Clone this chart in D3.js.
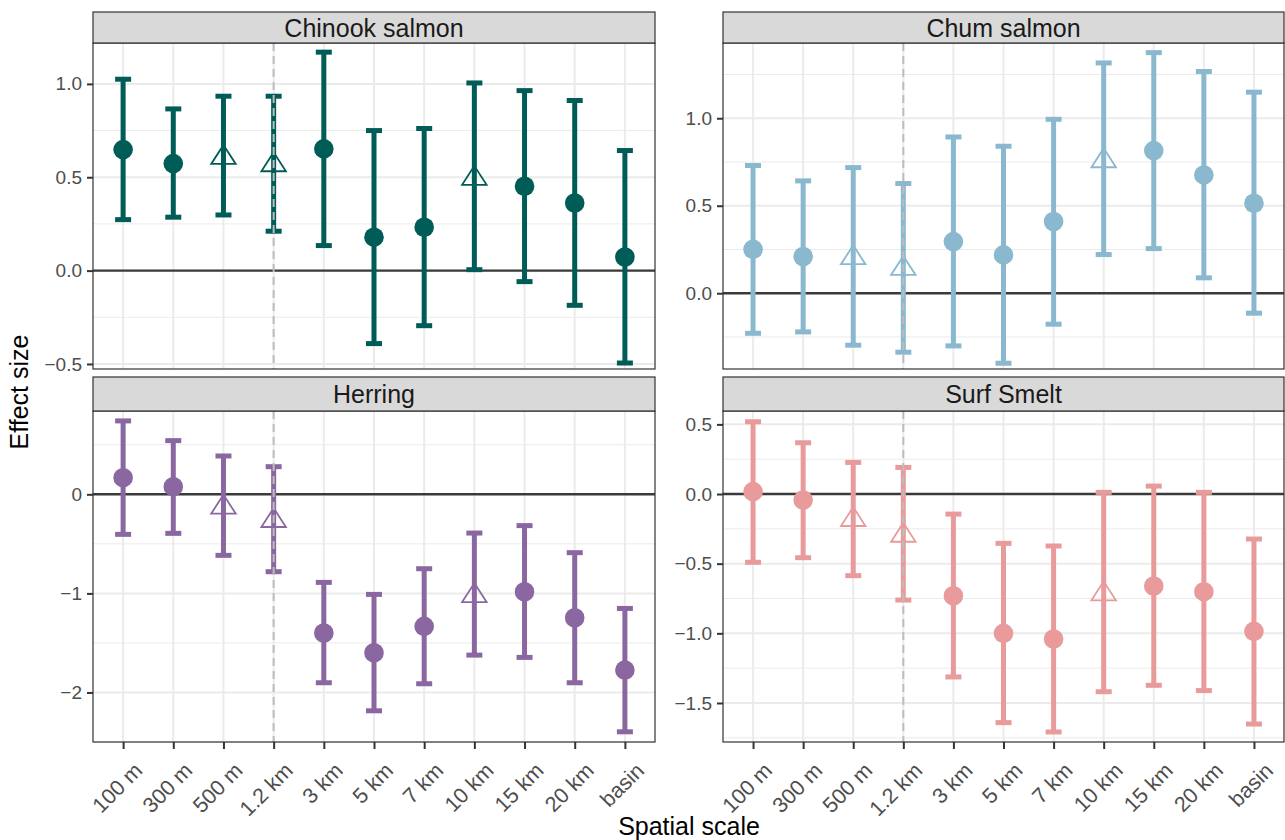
<!DOCTYPE html>
<html>
<head>
<meta charset="utf-8">
<script src="https://cdn.jsdelivr.net/npm/d3@7/dist/d3.min.js"></script>
<style>
  body { margin: 0; background: #fff; }
  svg { font-family: 'Liberation Sans', Arial, Helvetica, sans-serif; }
</style>
</head>
<body>
<svg id="chart" width="1285" height="840"></svg>
<script>
// spatial scales on the x axis
const scaleLabels = ['100 m', '300 m', '500 m', '1.2 km', '3 km', '5 km', '7 km', '10 km', '15 km', '20 km', 'basin'];
// scales drawn with an open triangle instead of a filled dot
const openScales = ['500 m', '1.2 km', '10 km'];
const cutoffScale = '1.2 km';

const chinookEst = [0.648, 0.573, 0.605, 0.566, 0.652, 0.179, 0.232, 0.493, 0.452, 0.362, 0.073];
const chinookLow = [0.273, 0.286, 0.298, 0.211, 0.134, -0.391, -0.295, 0.005, -0.059, -0.186, -0.495];
const chinookHigh = [1.025, 0.866, 0.934, 0.934, 1.170, 0.750, 0.761, 1.005, 0.964, 0.911, 0.643];

const chumEst = [0.251, 0.210, 0.202, 0.141, 0.295, 0.219, 0.410, 0.756, 0.815, 0.676, 0.514];
const chumLow = [-0.229, -0.221, -0.297, -0.337, -0.301, -0.400, -0.177, 0.221, 0.255, 0.088, -0.114];
const chumHigh = [0.730, 0.642, 0.718, 0.627, 0.893, 0.840, 0.994, 1.316, 1.375, 1.267, 1.149];

const herringEst = [0.168, 0.077, -0.131, -0.266, -1.400, -1.599, -1.333, -1.024, -0.983, -1.246, -1.774];
const herringLow = [-0.404, -0.394, -0.616, -0.781, -1.902, -2.185, -1.912, -1.623, -1.646, -1.902, -2.397];
const herringHigh = [0.741, 0.542, 0.387, 0.279, -0.889, -1.010, -0.751, -0.391, -0.316, -0.589, -1.152];

const smeltEst = [0.017, -0.043, -0.184, -0.297, -0.730, -1.000, -1.041, -0.718, -0.660, -0.701, -0.986];
const smeltLow = [-0.490, -0.457, -0.586, -0.761, -1.313, -1.641, -1.708, -1.419, -1.373, -1.411, -1.651];
const smeltHigh = [0.519, 0.368, 0.227, 0.191, -0.144, -0.354, -0.373, 0.012, 0.057, 0.012, -0.323];

const chinookTicks = [-0.5, 0, 0.5, 1.0];
const chumTicks = [0, 0.5, 1.0];
const herringTicks = [-2, -1, 0];
const smeltTicks = [-1.5, -1.0, -0.5, 0, 0.5];

const toRows = (est, low, high) => scaleLabels.map((s, i) => ({
  scale: s, est: est[i], low: low[i], high: high[i],
}));

const panels = [
  { title: 'Chinook salmon', color: '#005c57', rows: toRows(chinookEst, chinookLow, chinookHigh),
    ticks: chinookTicks, fmt: '.1f', yDomain: [-0.527, 1.219], col: 0, row: 0 },
  { title: 'Chum salmon', color: '#89b8cf', rows: toRows(chumEst, chumLow, chumHigh),
    ticks: chumTicks, fmt: '.1f', yDomain: [-0.433, 1.43], col: 1, row: 0 },
  { title: 'Herring', color: '#8a67a0', rows: toRows(herringEst, herringLow, herringHigh),
    ticks: herringTicks, fmt: 'd', yDomain: [-2.5, 0.841], col: 0, row: 1 },
  { title: 'Surf Smelt', color: '#e89b9a', rows: toRows(smeltEst, smeltLow, smeltHigh),
    ticks: smeltTicks, fmt: '.1f', yDomain: [-1.78, 0.596], col: 1, row: 1 },
];

const svg = d3.select('#chart');
const colX = [[93, 655], [723, 1284]];
const rowY = [{ strip: 12, top: 43, bottom: 369 }, { strip: 377, top: 411, bottom: 742 }];
const gridColor = '#ebebeb';
const borderColor = '#333333';
const textColor = '#4d4d4d';

const minus = s => s.replace('-', '\u2212');

function triangle(cx, cy) {
  const h = 19;
  const w = 24.5;
  return `M${cx},${cy - h * 2 / 3}L${cx + w / 2},${cy + h / 3}L${cx - w / 2},${cy + h / 3}Z`;
}

function drawPanel(p) {
  const [x0, x1] = colX[p.col];
  const { strip, top, bottom } = rowY[p.row];

  const x = d3.scalePoint()
    .domain(scaleLabels)
    .range([x0, x1])
    .padding(0.6);
  const y = d3.scaleLinear()
    .domain(p.yDomain)
    .range([bottom, top]);

  const g = svg.append('g');

  // minor grid, halfway between major ticks
  const step = p.ticks[1] - p.ticks[0];
  const minors = d3.range(p.ticks[0] - step / 2, p.ticks[p.ticks.length - 1] + step, step)
    .filter(v => v >= p.yDomain[0] - 1e-6 && v <= p.yDomain[1]);
  g.selectAll('.minor')
    .data(minors)
    .enter().append('line')
    .attr('x1', x0).attr('x2', x1)
    .attr('y1', d => y(d)).attr('y2', d => y(d))
    .attr('stroke', gridColor)
    .attr('stroke-width', 1);

  g.selectAll('.major-y')
    .data(p.ticks)
    .enter().append('line')
    .attr('x1', x0).attr('x2', x1)
    .attr('y1', d => y(d)).attr('y2', d => y(d))
    .attr('stroke', gridColor)
    .attr('stroke-width', 2);

  g.selectAll('.major-x')
    .data(scaleLabels)
    .enter().append('line')
    .attr('x1', d => x(d)).attr('x2', d => x(d))
    .attr('y1', top).attr('y2', bottom)
    .attr('stroke', gridColor)
    .attr('stroke-width', 2);

  // zero reference
  g.append('line')
    .attr('x1', x0).attr('x2', x1)
    .attr('y1', y(0)).attr('y2', y(0))
    .attr('stroke', '#3a3a3a')
    .attr('stroke-width', 2.4);

  // error bars
  const bars = g.selectAll('.bar')
    .data(p.rows)
    .enter().append('g')
    .attr('stroke', p.color)
    .attr('stroke-width', 5);
  bars.append('line')
    .attr('x1', d => x(d.scale)).attr('x2', d => x(d.scale))
    .attr('y1', d => y(d.low)).attr('y2', d => y(d.high));
  bars.append('line')
    .attr('x1', d => x(d.scale) - 8).attr('x2', d => x(d.scale) + 8)
    .attr('y1', d => y(d.low)).attr('y2', d => y(d.low));
  bars.append('line')
    .attr('x1', d => x(d.scale) - 8).attr('x2', d => x(d.scale) + 8)
    .attr('y1', d => y(d.high)).attr('y2', d => y(d.high));

  // points
  g.selectAll('.dot')
    .data(p.rows.filter(d => !openScales.includes(d.scale)))
    .enter().append('circle')
    .attr('cx', d => x(d.scale))
    .attr('cy', d => y(d.est))
    .attr('r', 9.8)
    .attr('fill', p.color);

  g.selectAll('.tri')
    .data(p.rows.filter(d => openScales.includes(d.scale)))
    .enter().append('path')
    .attr('d', d => triangle(x(d.scale), y(d.est)))
    .attr('fill', 'none')
    .attr('stroke', p.color)
    .attr('stroke-width', 1.8);

  // dashed cut-off line, drawn over the bars
  g.append('line')
    .attr('x1', x(cutoffScale)).attr('x2', x(cutoffScale))
    .attr('y1', top).attr('y2', bottom)
    .attr('stroke', '#bdbdbd')
    .attr('stroke-width', 2)
    .attr('stroke-dasharray', '8,5');

  // panel border
  g.append('rect')
    .attr('x', x0).attr('y', top)
    .attr('width', x1 - x0).attr('height', bottom - top)
    .attr('fill', 'none')
    .attr('stroke', borderColor)
    .attr('stroke-width', 1.2);

  // strip
  g.append('rect')
    .attr('x', x0).attr('y', strip)
    .attr('width', x1 - x0).attr('height', top - strip)
    .attr('fill', '#d9d9d9')
    .attr('stroke', borderColor)
    .attr('stroke-width', 1.2);
  g.append('text')
    .attr('x', (x0 + x1) / 2)
    .attr('y', (strip + top) / 2)
    .attr('dy', '0.36em')
    .attr('text-anchor', 'middle')
    .attr('font-size', 25)
    .attr('fill', '#1a1a1a')
    .text(p.title);

  // y axis
  const yAxis = g.append('g')
    .attr('transform', `translate(${x0}, 0)`)
    .call(d3.axisLeft(y)
      .tickValues(p.ticks)
      .tickSize(6)
      .tickPadding(5)
      .tickFormat(d => minus(d3.format(p.fmt)(d))));
  yAxis.select('.domain').remove();
  yAxis.selectAll('line').attr('stroke', borderColor).attr('stroke-width', 2);
  yAxis.selectAll('text')
    .attr('font-size', 19)
    .attr('font-family', null)
    .attr('fill', textColor);

  // x axis only on the bottom row
  if (p.row === 1) {
    const xAxis = g.append('g')
      .attr('transform', `translate(0, ${bottom})`)
      .call(d3.axisBottom(x).tickSize(7).tickPadding(4));
    xAxis.select('.domain').remove();
    xAxis.selectAll('line').attr('stroke', borderColor).attr('stroke-width', 2);
    xAxis.selectAll('text')
      .attr('font-size', 21.5)
      .attr('font-family', null)
      .attr('fill', textColor)
      .attr('text-anchor', 'end')
      .attr('y', 0)
      .attr('dy', '0.72em')
      .attr('transform', 'translate(9, 19) rotate(-45)');
  }
}

panels.forEach(drawPanel);

svg.append('text')
  .attr('transform', 'translate(28, 392) rotate(-90)')
  .attr('text-anchor', 'middle')
  .attr('font-size', 25)
  .attr('fill', '#000')
  .text('Effect size');

svg.append('text')
  .attr('x', 689)
  .attr('y', 835)
  .attr('text-anchor', 'middle')
  .attr('font-size', 25)
  .attr('fill', '#000')
  .text('Spatial scale');
</script>
</body>
</html>
